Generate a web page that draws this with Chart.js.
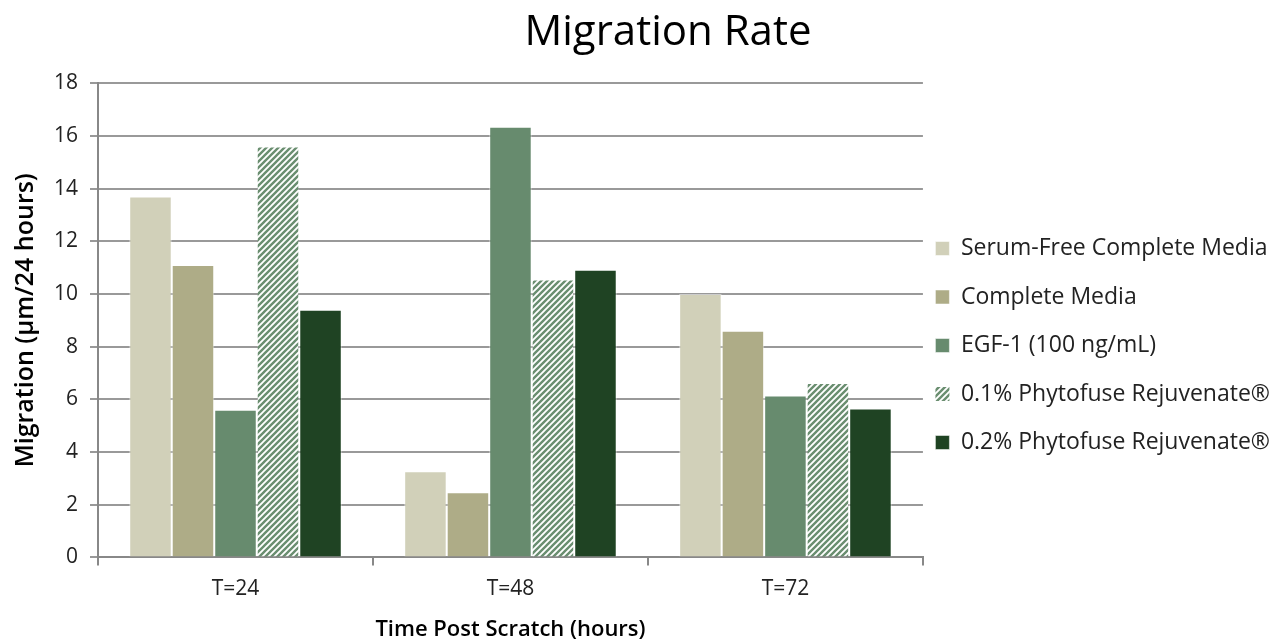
<!DOCTYPE html>
<html><head><meta charset="utf-8">
<script src="https://cdn.jsdelivr.net/npm/chart.js@4/dist/chart.umd.min.js"></script>
<style>html,body{margin:0;padding:0;background:#fff}#wrap{width:1273px;height:643px}</style>
</head><body><div id="wrap"><canvas id="c" width="1273" height="643"></canvas></div>
<script>
const categories = ['T=24', 'T=48', 'T=72'];
const serumFree = [13.7, 3.27, 10.0];
const completeMedia = [11.1, 2.47, 8.6];
const egf1 = [5.6, 16.35, 6.15];
const phyto01 = [15.6, 10.55, 6.62];
const phyto02 = [9.4, 10.92, 5.65];
const seriesNames = ['Serum-Free Complete Media', 'Complete Media', 'EGF-1 (100 ng/mL)', '0.1% Phytofuse Rejuvenate®', '0.2% Phytofuse Rejuvenate®'];
const yTicks = [0, 2, 4, 6, 8, 10, 12, 14, 16, 18];

const FONT = '"Open Sans", Lato, sans-serif';

function hatch(){
  const p = document.createElement('canvas');
  p.width = 6; p.height = 6;
  const g = p.getContext('2d');
  g.fillStyle = '#ffffff'; g.fillRect(0,0,6,6);
  g.strokeStyle = '#6a8e70'; g.lineWidth = 2.4;
  g.beginPath();
  g.moveTo(-1,7); g.lineTo(7,-1);
  g.moveTo(-4,4); g.lineTo(4,-4);
  g.moveTo(2,10); g.lineTo(10,2);
  g.stroke();
  return document.getElementById('c').getContext('2d').createPattern(p,'repeat');
}

const titlePlugin = {
  id: 'customTitle',
  afterLayout(chart){
    // pull the legend a little closer to the plot area
    if (chart.legend) { chart.legend.left -= 13; chart.legend.right -= 13; }
  },
  afterDraw(chart){
    const ctx = chart.ctx;
    ctx.save();
    ctx.font = '42px ' + FONT;
    ctx.fillStyle = '#000';
    ctx.textAlign = 'center';
    ctx.textBaseline = 'middle';
    ctx.fillText('Migration Rate', 668, 33);
    ctx.restore();
  }
};

const colors = ['#d1d0b9', '#aeac87', '#678b6e', hatch(), '#1f4323'];
const values = [serumFree, completeMedia, egf1, phyto01, phyto02];

new Chart(document.getElementById('c'), {
  type: 'bar',
  data: {
    labels: categories,
    datasets: seriesNames.map((n,i)=>({
      label: n, data: values[i], backgroundColor: colors[i],
      borderColor: i===3 ? 'rgba(0,0,0,0)' : 'rgba(255,255,255,0.5)', borderWidth: 1,
      categoryPercentage: 0.773, barPercentage: 1.0
    }))
  },
  options: {
    responsive: false, animation: false,
    layout: { padding: { top: 48, bottom: 0, left: 6, right: -20 } },
    plugins: {
      title: { display: false },
      subtitle: { display: true, text: '', fullSize: false, font: { size: 1 }, padding: { top: 34, bottom: 0 } },
      tooltip: { enabled: false },
      legend: {
        position: 'right', align: 'center', maxWidth: 420,
        labels: { font: { family: FONT, size: 23 }, color: '#222', boxWidth: 14, boxHeight: 14, padding: 25.5 }
      }
    },
    scales: {
      x: {
        grid: { offset: true, drawOnChartArea: false, drawTicks: true, tickLength: 8, color: '#888', lineWidth: 2 },
        border: { color: '#888', width: 2 },
        ticks: { font: { family: FONT, size: 21 }, color: '#222', padding: 11 },
        title: { display: true, text: 'Time Post Scratch (hours)', font: { family: FONT, size: 22, weight: '600' }, color: '#000', padding: { top: 4, bottom: 0 } }
      },
      y: {
        min: 0, max: 18,
        afterBuildTicks(axis){ axis.ticks = yTicks.map(v=>({value:v})); },
        grid: { color: '#999', lineWidth: 2, tickLength: 8 },
        border: { color: '#888', width: 2 },
        ticks: { font: { family: FONT, size: 21 }, color: '#222', padding: 12 },
        title: { display: true, text: 'Migration (µm/24 hours)', font: { family: FONT, size: 25, weight: '600' }, color: '#000', padding: { top: 5, bottom: 1 } }
      }
    }
  },
  plugins: [titlePlugin]
});
</script></body></html>
